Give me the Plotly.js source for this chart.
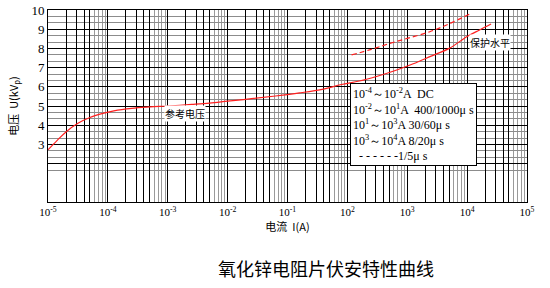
<!DOCTYPE html>
<html>
<head>
<meta charset="utf-8">
<script src="https://cdn.plot.ly/plotly-3.0.1.min.js"></script>
<style>html,body{margin:0;padding:0;background:#fff}#c{width:550px;height:288px}</style>
</head>
<body>
<div id="c"></div>
<script>
// Decade exponents of the current axis positions and their printed labels
const decadeExp = [-5, -4, -3, -2, -1, 0, 1, 2, 3];
const decadeLabels = ["10<sup>-5</sup>", "10<sup>-4</sup>", "10<sup>-3</sup>", "10<sup>-2</sup>", "10<sup>-1</sup>", "10<sup>2</sup>", "10<sup>3</sup>", "10<sup>4</sup>", "10<sup>5</sup>"];
// Voltage tick labels
const voltTicks = [3, 4, 5, 6, 7, 8, 9, 10];

// Reference voltage curve (solid): log10 current position, voltage
const mainLogI = [-5, -4.85, -4.7, -4.5, -4.3, -4.1, -3.9, -3.6, -3.3, -3.0, -2.6, -2.3, -2.0, -1.6, -1.2, -0.8, -0.4, -0.1, 0.2, 0.5, 0.8, 1.1, 1.4, 1.7, 2.0, 2.2, 2.4];
const mainU   = [2.72, 3.2, 3.65, 4.1, 4.4, 4.6, 4.75, 4.88, 4.95, 5.0, 5.08, 5.15, 5.25, 5.38, 5.52, 5.68, 5.88, 6.12, 6.3, 6.55, 6.85, 7.2, 7.6, 8.0, 8.62, 8.95, 9.27];
// Protection level curve (dashed)
const protLogI = [0.07, 0.4, 0.71, 1.0, 1.377, 1.7, 2.07];
const protU    = [7.66, 7.95, 8.26, 8.52, 8.87, 9.28, 9.83];

const toI = a => a.map(v => Math.pow(10, v));

// grid positions (axis furniture)
const xMajor = [], xMajorText = [], xMinor = [];
decadeExp.forEach((d, i) => {
  xMajor.push(Math.pow(10, d)); xMajorText.push(decadeLabels[i]);
  if (d < 3) {
    for (let k = 2; k <= 5; k++) { xMajor.push(k * Math.pow(10, d)); xMajorText.push(""); }
    for (let k = 6; k <= 9; k++) xMinor.push(k * Math.pow(10, d));
  }
});
const yMajor = [], yMajorText = [], yMinor = [];
for (let v = 2; v <= 10; v++) { yMajor.push(v); yMajorText.push(voltTicks.includes(v) ? String(v) : ""); }
for (let v = 5; v < 30; v++) { if (v % 3 !== 0) yMinor.push(v / 3); }

const red = "#ff2020";
const cjk = "'Noto Sans CJK SC', sans-serif";
const serif = "'Liberation Serif', 'DejaVu Serif', serif";

const data = [
  {x: toI(mainLogI), y: mainU, type: "scatter", mode: "lines", line: {color: red, width: 1.2, shape: "spline"}, hoverinfo: "skip"},
  {x: toI(protLogI), y: protU, type: "scatter", mode: "lines", line: {color: red, width: 1.2, dash: "5px,3px", shape: "spline"}, hoverinfo: "skip"}
];

const layout = {
  width: 550, height: 288,
  margin: {l: 48, r: 23, t: 10, b: 86},
  paper_bgcolor: "#fff", plot_bgcolor: "#fff",
  showlegend: false,
  xaxis: {
    type: "log", range: [-5, 3], tickmode: "array", tickvals: xMajor, ticktext: xMajorText,
    showgrid: true, gridcolor: "#000", gridwidth: 1, zeroline: false,
    showline: true, linecolor: "#000", linewidth: 1, mirror: true, ticks: "",
    tickfont: {family: serif, size: 11, color: "#000"},
    minor: {tickmode: "array", tickvals: xMinor, showgrid: true, gridcolor: "#9a9a9a", gridwidth: 1, ticks: ""},
    title: {text: "电流  I(A)", font: {family: cjk, size: 11, color: "#000"}, standoff: 5}
  },
  yaxis: {
    range: [0, 10], tickmode: "array", tickvals: yMajor, ticktext: yMajorText,
    showgrid: true, gridcolor: "#000", gridwidth: 1, zeroline: false,
    showline: true, linecolor: "#000", linewidth: 1, mirror: true, ticks: "",
    tickfont: {family: serif, size: 13, color: "#000"},
    minor: {tickmode: "array", tickvals: yMinor, showgrid: true, gridcolor: "#8c8c8c", gridwidth: 1, ticks: ""},
    title: {text: "电压  U(kV<sub>p</sub>)", font: {family: cjk, size: 11, color: "#000"}, standoff: 10}
  },
  annotations: [
    {xref: "paper", yref: "paper", x: 0.63, y: 0.404, xanchor: "left", yanchor: "middle", align: "left",
     text: "10<sup>-4</sup>～10<sup>-2</sup>A  DC<br>10<sup>-2</sup>～10<sup>1</sup>A  400/1000μ s<br>10<sup>1</sup>～10<sup>3</sup>A 30/60μ s<br>10<sup>3</sup>～10<sup>4</sup>A 8/20μ s<br>  - - - - - -1/5μ s",
     showarrow: false, bgcolor: "#fff", bordercolor: "#000", borderwidth: 1, borderpad: 2,
     font: {family: serif, size: 12, color: "#000"}},
    {xref: "x", yref: "y", x: -2.72, y: 4.6, text: "参考电压", showarrow: false, bgcolor: "#fff",
     font: {family: cjk, size: 10, color: "#000"}, borderpad: 0},
    {xref: "x", yref: "y", x: 2.38, y: 8.33, text: "保护水平", showarrow: false, bgcolor: "#fff",
     font: {family: cjk, size: 10, color: "#000"}, borderpad: 0},
    {xref: "paper", yref: "paper", x: 0.58, y: -0.344, xanchor: "center", yanchor: "middle",
     text: "氧化锌电阻片伏安特性曲线", showarrow: false,
     font: {family: cjk, size: 18, color: "#000"}}
  ]
};

Plotly.newPlot("c", data, layout, {staticPlot: true, displayModeBar: false});
</script>
</body>
</html>
